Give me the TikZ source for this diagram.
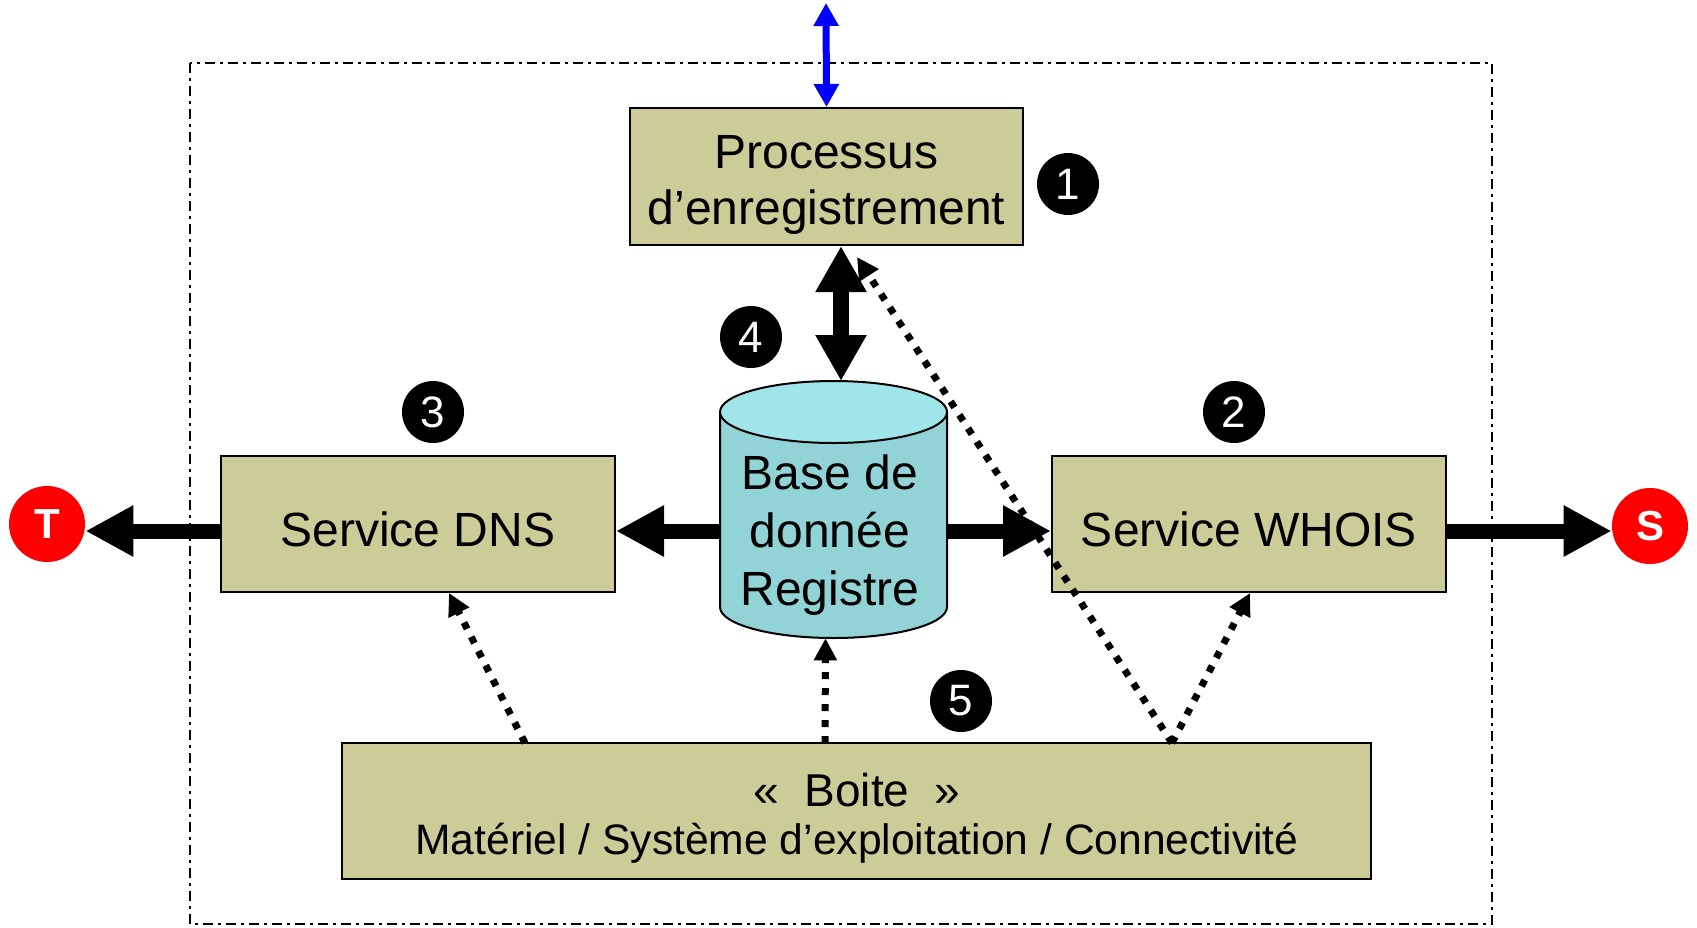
\documentclass[tikz,border=0pt]{standalone}
\usepackage{fontspec}
\setmainfont{Liberation Sans}
\usetikzlibrary{arrows.meta}
\definecolor{olivebox}{RGB}{204,204,153}
\definecolor{cyltop}{RGB}{160,229,232}
\definecolor{cylside}{RGB}{146,211,214}
\definecolor{bblue}{RGB}{0,0,255}
\definecolor{endred}{RGB}{255,0,0}
\begin{document}
\begin{tikzpicture}[x=0.5pt,y=-0.5pt,
 box/.style={draw=black, line width=1pt, fill=olivebox, inner sep=0pt, align=center},
 num/.style={circle, fill=black, text=white, minimum size=31pt, inner sep=0pt, font=\fontsize{22}{22}\selectfont},
 endpt/.style={circle, fill=endred, text=white, minimum size=38pt, inner sep=0pt, font=\fontsize{21}{21}\selectfont\bfseries},
 bigarrow/.style={line width=7.5pt, -{Triangle[length=24pt,width=24pt]}},
 dotarrow/.style={line width=3.5pt, dash pattern=on 3.5pt off 4.5pt, -{Triangle[length=11pt,width=11pt]}},
 maintext/.style={font=\fontsize{24}{28}\selectfont, align=center},
 ]
\useasboundingbox (0,0) rectangle (1697,927);
% frame
\draw[line width=1.2pt, dash pattern=on 5pt off 2.5pt on 1.5pt off 2.5pt] (190,63) rectangle (1492,924);

% boxes
\node[box, minimum width=196.5pt, minimum height=68.5pt] (proc) at (826.5,176.5) {};
\node[maintext] (proctext) at (826.5,185) {Processus\\d’enregistrement};
\node[box, minimum width=197pt, minimum height=68pt] (dns) at (418,524) {};
\node[maintext] (dnstext) at (418,529) {Service DNS};
\node[box, minimum width=197pt, minimum height=68pt] (whois) at (1249,524) {};
\node[maintext] (whoistext) at (1249,529) {Service WHOIS};
\node[box, minimum width=514.5pt, minimum height=68pt] (boite) at (856.5,811) {};
\node[font=\fontsize{23}{23}\selectfont] (boite1) at (857,790) {«\ \ Boite\ \ »};
\node[font=\fontsize{21.3}{21.3}\selectfont] (boite2) at (857,843) {Matériel / Système d’exploitation / Connectivité};

% cylinder
\fill[cylside] (720,412) -- (720,607) arc[start angle=180,end angle=360,x radius=56.75pt,y radius=15.5pt] -- (947,412) -- cycle;
\draw[line width=1pt] (720,412) -- (720,607) arc[start angle=180,end angle=360,x radius=56.75pt,y radius=15.5pt] -- (947,412);
\draw[line width=1pt, fill=cyltop] (833.5,412) ellipse [x radius=56.75pt, y radius=15.5pt];
\node[minimum width=113.5pt, minimum height=128.5pt, inner sep=0pt] (db) at (833.5,509.5) {};
\node[font=\fontsize{24}{29}\selectfont, align=center] (dbtext) at (830,535) {Base de\\donnée\\Registre};

% numbered circles
\node[num] (n1) at (1068,184) {1};
\node[num] (n2) at (1234,412) {2};
\node[num] (n3) at (433,412) {3};
\node[num] (n4) at (751,337) {4};
\node[num] (n5) at (961,701) {5};

% end points
\node[endpt] (T) at (47,524) {T};
\node[endpt] (S) at (1650,526) {S};

% coordinates
\coordinate (arrowy) at (0,531);
\coordinate (ext) at (826,3);
\coordinate (dbtop) at (841,381);
\coordinate (pin) at (857,257);
\coordinate (b1) at (525,743);
\coordinate (b2) at (825,743);
\coordinate (b3) at (1172,743);

% thick arrows
\draw[bigarrow] (dns.west |- arrowy) -- (T.east |- arrowy);
\draw[bigarrow] (db.west |- arrowy) -- (dns.east |- arrowy);
\draw[bigarrow] (db.east |- arrowy) -- (whois.west |- arrowy);
\draw[bigarrow] (whois.east |- arrowy) -- (S.west |- arrowy);
\draw[line width=8pt, {Triangle[length=23pt,width=24pt]}-{Triangle[length=23pt,width=24pt]}] ([xshift=7.25pt]proc.south) -- (dbtop);
\draw[line width=3.5pt, bblue, {Triangle[length=11.5pt,width=12pt]}-{Triangle[length=11.5pt,width=12pt]}] (ext) -- (proc.north);

% dotted arrows
\draw[dotarrow] (b1) -- ([xshift=15.5pt]dns.south);
\draw[dotarrow] (b2) -- ([xshift=-4pt]db.south);
\draw[dotarrow] (b3) -- ([xshift=0.5pt]whois.south);
\draw[dotarrow] (b3) -- (pin);
\end{tikzpicture}
\end{document}
